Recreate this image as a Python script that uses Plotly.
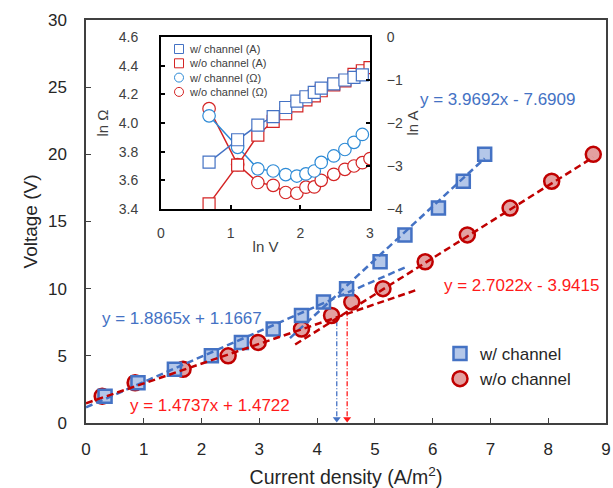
import plotly.graph_objects as go

# ---- main chart data: voltage vs current density ----
voltage = [2, 3, 4, 5, 6, 7, 8, 9, 10, 12, 14, 16, 18, 20]
j_with = [0.33, 0.90, 1.53, 2.17, 2.69, 3.24, 3.73, 4.11, 4.51, 5.09, 5.52, 6.10, 6.53, 6.90]
j_without = [0.28, 0.85, 1.68, 2.46, 2.98, 3.73, 4.25, 4.60, 5.14, 5.87, 6.60, 7.34, 8.06, 8.78]

# linear fits (slope, intercept) and the x-span each fit line covers
fit_with_low = (1.8865, 1.1667)
fit_with_high = (3.9692, -7.6909)
fit_without_low = (1.4737, 1.4722)
fit_without_high = (2.7022, -3.9415)
span_with_low = [0.0, 5.55]
span_with_high = [3.53, 6.90]
span_without_low = [0.0, 5.72]
span_without_high = [3.62, 8.78]

# transition markers (dash-dot drop lines): x position and top of the line
trans_x = [4.34, 4.52]
trans_top = [7.6, 8.4]

# ---- inset data: ln V vs ln A / ln Ohm ----
lnv_with = [0.69, 1.10, 1.39, 1.61, 1.79, 1.95, 2.08, 2.20, 2.30, 2.48, 2.64, 2.77, 2.89]
lna_with = [-2.91, -2.39, -2.05, -1.85, -1.64, -1.49, -1.39, -1.29, -1.19, -1.09, -1.00, -0.94, -0.88]
lnohm_with = [4.05, 3.83, 3.68, 3.665, 3.64, 3.63, 3.645, 3.665, 3.725, 3.77, 3.815, 3.865, 3.92]
lnv_without = [0.69, 1.10, 1.39, 1.61, 1.79, 1.95, 2.08, 2.20, 2.30, 2.48, 2.64, 2.77, 2.89, 3.00]
lna_without = [-3.88, -2.98, -2.28, -1.96, -1.785, -1.60, -1.46, -1.37, -1.25, -1.115, -1.02, -0.87, -0.785, -0.71]
lnohm_without = [4.10, 3.71, 3.585, 3.565, 3.515, 3.51, 3.552, 3.554, 3.60, 3.642, 3.677, 3.70, 3.723, 3.752]

# inset key entries
key_labels = ["w/ channel (A)", "w/o channel (A)", "w/ channel (Ω)", "w/o channel (Ω)"]

BLUE = "#4472C4"
BLUE_FILL = "#B4C7E9"
RED = "#C00000"
RED_FILL = "#E3A0A0"
EQ_RED = "#FF1A1A"
INSET_BLUE_SQ = "#4472C4"
INSET_BLUE_CI = "#2E8BD6"
INSET_RED = "#D42424"
FONT = "Liberation Sans, Arial, sans-serif"

W, H = 613, 488
ML, MR, MT, MB = 86, 7, 20, 65
PW, PH = W - ML - MR, H - MT - MB


def px_x(p):
    return (p - ML) / PW


def px_y(p):
    return (H - MB - p) / PH


def line_pts(fit, span):
    m, b = fit
    return span, [m * span[0] + b, m * span[1] + b]


fig = go.Figure()

# main scatter series
fig.add_trace(go.Scatter(
    x=j_without, y=voltage, mode="markers", name="w/o channel", legendrank=2,
    marker=dict(symbol="circle", size=15, color=RED_FILL, line=dict(color=RED, width=2.5)),
))
fig.add_trace(go.Scatter(
    x=j_with, y=voltage, mode="markers", name="w/ channel", legendrank=1,
    marker=dict(symbol="square", size=13, color=BLUE_FILL, line=dict(color=BLUE, width=2.5)),
))

# fit lines
for fit, span, col in [
    (fit_with_low, span_with_low, BLUE),
    (fit_with_high, span_with_high, BLUE),
    (fit_without_low, span_without_low, RED),
    (fit_without_high, span_without_high, RED),
]:
    xs, ys = line_pts(fit, span)
    fig.add_trace(go.Scatter(
        x=xs, y=ys, mode="lines", showlegend=False, hoverinfo="skip",
        line=dict(color=col, width=2.5, dash="7px,4px"),
    ))

# arrowheads at the foot of the drop lines
fig.add_trace(go.Scatter(
    x=trans_x, y=[0.3, 0.3], mode="markers", showlegend=False, hoverinfo="skip",
    cliponaxis=False,
    marker=dict(symbol="triangle-down", size=7, color=[BLUE, EQ_RED], line=dict(width=0)),
))

# inset: resistance (left axis) and current (right axis)
fig.add_trace(go.Scatter(
    x=lnv_without, y=lnohm_without, xaxis="x2", yaxis="y2", mode="lines+markers",
    showlegend=False, line=dict(color=INSET_RED, width=1.5),
    marker=dict(symbol="circle", size=12.5, color="white", line=dict(color=INSET_RED, width=1.2)),
))
fig.add_trace(go.Scatter(
    x=lnv_with, y=lnohm_with, xaxis="x2", yaxis="y2", mode="lines+markers",
    showlegend=False, line=dict(color=INSET_BLUE_CI, width=1.5),
    marker=dict(symbol="circle", size=12.5, color="white", line=dict(color=INSET_BLUE_CI, width=1.2)),
))
fig.add_trace(go.Scatter(
    x=lnv_without, y=lna_without, xaxis="x2", yaxis="y3", mode="lines+markers",
    showlegend=False, line=dict(color=INSET_RED, width=1.5),
    marker=dict(symbol="square", size=12, color="white", line=dict(color=INSET_RED, width=1.2)),
))
fig.add_trace(go.Scatter(
    x=lnv_with, y=lna_with, xaxis="x2", yaxis="y3", mode="lines+markers",
    showlegend=False, line=dict(color=INSET_BLUE_SQ, width=1.5),
    marker=dict(symbol="square", size=12, color="white", line=dict(color=INSET_BLUE_SQ, width=1.2)),
))

shapes = []
annotations = []

# dash-dot drop lines
for xv, ytop, col in zip(trans_x, trans_top, [BLUE, EQ_RED]):
    shapes.append(dict(type="line", xref="x", yref="y", x0=xv, x1=xv, y0=0.5, y1=ytop,
                       line=dict(color=col, width=1.3, dash="5px,2px,1px,2px"), layer="below"))

# fit equations
eq_font = dict(family=FONT, size=17)
for txt, xv, yv, col in [
    ("y = 3.9692x - 7.6909", 7.12, 24.1, BLUE),
    ("y = 2.7022x - 3.9415", 7.54, 10.2, EQ_RED),
    ("y = 1.8865x + 1.1667", 1.66, 7.8, BLUE),
    ("y = 1.4737x + 1.4722", 2.15, 1.34, EQ_RED),
]:
    annotations.append(dict(x=xv, y=yv, xref="x", yref="y", text=txt, showarrow=False,
                            font=dict(eq_font, color=col), xanchor="center", yanchor="middle"))

# inset key: open symbols drawn as shapes, labels as one text block
key_rows = [49, 63.3, 77.6, 91.9]
key_styles = [("rect", INSET_BLUE_SQ), ("rect", INSET_RED), ("circle", INSET_BLUE_CI), ("circle", INSET_RED)]
for yp, (kind, col) in zip(key_rows, key_styles):
    half = 4.5
    shapes.append(dict(type=kind, xref="paper", yref="paper",
                       x0=px_x(179 - half), x1=px_x(179 + half),
                       y0=px_y(yp + half), y1=px_y(yp - half),
                       line=dict(color=col, width=1), fillcolor="white"))
annotations.append(dict(x=px_x(187), y=px_y(key_rows[0] - 8), xref="paper", yref="paper",
                        text="<br>".join(key_labels), align="left",
                        showarrow=False, xanchor="left", yanchor="top",
                        font=dict(family=FONT, size=11, color="#404040")))

axis_main = dict(showline=True, linecolor="#404040", linewidth=1.5, mirror=True,
                 ticks="inside", ticklen=5, tickwidth=1.3, tickcolor="#404040",
                 showgrid=False, zeroline=False, automargin=False,
                 tickfont=dict(family=FONT, size=17, color="#262626"))
axis_inset = dict(showline=True, linecolor="black", linewidth=2, mirror=True,
                  ticks="inside", ticklen=4, tickwidth=1.5, tickcolor="black",
                  showgrid=False, zeroline=False, automargin=False,
                  tickfont=dict(family=FONT, size=14, color="#404040"))

fig.update_layout(
    width=W, height=H,
    margin=dict(l=ML, r=MR, t=MT, b=MB, autoexpand=False),
    paper_bgcolor="white", plot_bgcolor="white",
    font=dict(family=FONT, color="#262626"),
    xaxis=dict(axis_main, range=[0, 9], dtick=1, ticklabelstandoff=10,
               title=dict(text="Current density (A/m<sup>2</sup>)", standoff=14,
                          font=dict(family=FONT, size=19.5, color="#262626"))),
    yaxis=dict(axis_main, range=[0, 30], dtick=5, ticklabelstandoff=14,
               title=dict(text="Voltage (V)", standoff=5,
                          font=dict(family=FONT, size=19, color="#262626"))),
    xaxis2=dict(axis_inset, domain=[px_x(161), px_x(370)], anchor="y2", range=[0, 3],
                tickvals=[0, 1, 2, 3], ticklabelstandoff=10,
                title=dict(text="ln V", standoff=2, font=dict(family=FONT, size=15, color="#404040"))),
    yaxis2=dict(axis_inset, domain=[px_y(209), px_y(37)], anchor="x2", range=[3.4, 4.6],
                dtick=0.2, tickformat=".1f", ticklabelstandoff=18,
                title=dict(text="ln Ω", standoff=6, font=dict(family=FONT, size=15, color="#404040"))),
    yaxis3=dict(axis_inset, overlaying="y2", anchor="x2", side="right", range=[-4, 0],
                dtick=1, ticklabelstandoff=12, mirror=False,
                title=dict(text="ln A", standoff=6, font=dict(family=FONT, size=15, color="#404040"))),
    legend=dict(x=px_x(440), y=px_y(336), xanchor="left", yanchor="top",
                bgcolor="rgba(255,255,255,0)", font=dict(family=FONT, size=17, color="#262626"),
                tracegroupgap=0),
    shapes=shapes,
    annotations=annotations,
    showlegend=True,
)

fig.write_html("out.html")
